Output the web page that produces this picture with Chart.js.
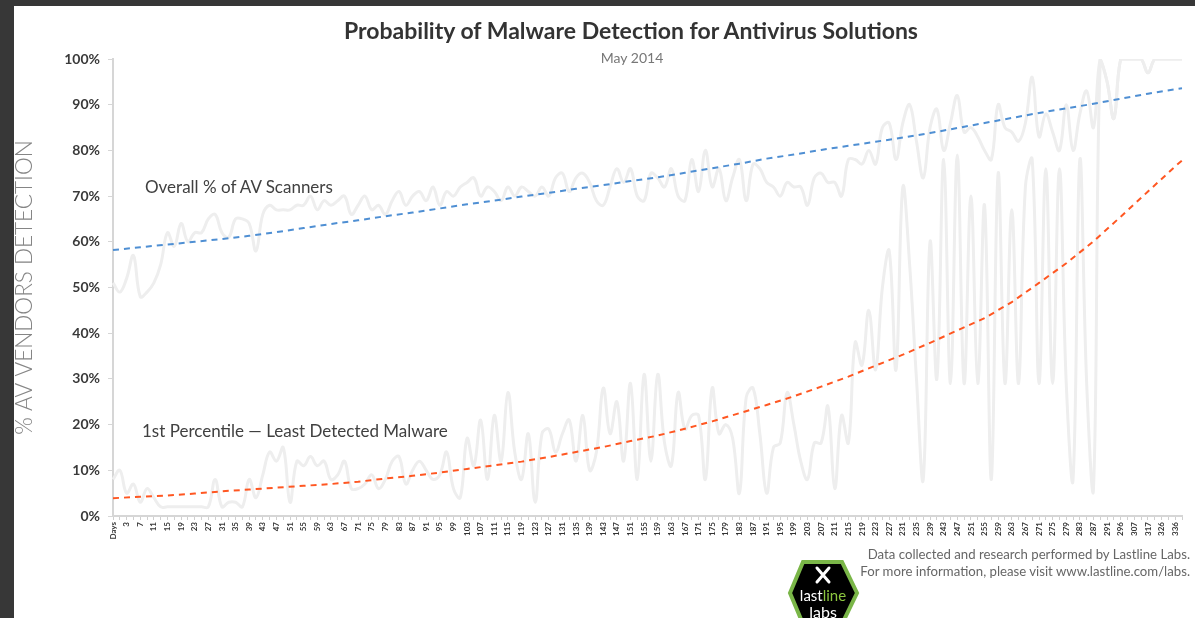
<!DOCTYPE html>
<html>
<head>
<meta charset="utf-8">
<script src="https://cdn.jsdelivr.net/npm/chart.js@4.4.1/dist/chart.umd.min.js"></script>
<style>
  body { margin: 0; background: #373737; width: 1195px; height: 618px; overflow: hidden; font-family: Lato, 'Open Sans', sans-serif; }
  #panel { position: absolute; left: 14px; top: 6px; width: 1181px; height: 612px; background: #fff; }
  #chart { position: absolute; left: 0; top: 0; }
  .txt { position: absolute; white-space: nowrap; }
  #title { left: 281px; width: 700px; top: 16px; line-height: 28px; text-align: center; font-size: 23px; font-weight: bold; color: #333; }
  #subtitle { left: 532px; width: 200px; top: 50px; line-height: 16px; text-align: center; font-size: 14px; color: #777; }
  .note { font-size: 17px; line-height: 20px; color: #404040; }
  #foot { right: 5px; top: 546px; font-size: 13.2px; line-height: 17px; color: #666; text-align: right; }
  #logo { position: absolute; left: 785px; top: 558px; }
</style>
</head>
<body>
<div id="panel"></div>
<canvas id="chart" width="1195" height="618"></canvas>
<div class="txt" id="title">Probability of Malware Detection for Antivirus Solutions</div>
<div class="txt" id="subtitle">May 2014</div>
<div class="txt note" style="left:145px;top:177px;">Overall % of AV Scanners</div>
<div class="txt note" style="left:142px;top:421px;">1st Percentile — Least Detected Malware</div>
<div class="txt" id="foot">Data collected and research performed by Lastline Labs.<br>For more information, please visit www.lastline.com/labs.</div>
<svg id="logo" width="76" height="60" viewBox="0 0 76 60">
  <polygon points="5,35 18,4 57,4 72,35 57,66 18,66" fill="#000" stroke="#7ab648" stroke-width="4"/>
  <path d="M32 10 L44 24 M44 10 L32 24" stroke="#fff" stroke-width="3" stroke-linecap="round"/>
  <text x="38" y="43" text-anchor="middle" font-family="Lato, sans-serif" font-size="15" fill="#fff">last<tspan fill="#8cc63f">line</tspan></text>
  <text x="38" y="60" text-anchor="middle" font-family="Lato, sans-serif" font-size="16" fill="#fff">labs</text>
</svg>
<script>
// day categories (odd days, then sparser days at the end)
const dayLabels = ['Days',
  1, 3, 5, 7, 9, 11, 13, 15, 17, 19, 21, 23, 25, 27, 29, 31, 33, 35, 37, 39,
  41, 43, 45, 47, 49, 51, 53, 55, 57, 59, 61, 63, 65, 67, 69, 71, 73, 75, 77, 79,
  81, 83, 85, 87, 89, 91, 93, 95, 97, 99, 101, 103, 105, 107, 109, 111, 113, 115, 117, 119,
  121, 123, 125, 127, 129, 131, 133, 135, 137, 139, 141, 143, 145, 147, 149, 151, 153, 155, 157, 159,
  161, 163, 165, 167, 169, 171, 173, 175, 177, 179, 181, 183, 185, 187, 189, 191, 193, 195, 197, 199,
  201, 203, 205, 207, 209, 211, 213, 215, 217, 219, 221, 223, 225, 227, 229, 231, 233, 235, 237, 239,
  241, 243, 245, 247, 249, 251, 253, 255, 257, 259, 261, 263, 265, 267, 269, 271, 273, 275, 277, 279,
  281, 283, 285, 287, 289, 291, 293, 296, 301, 307, 312, 317, 321, 326, 331, 336, 341];

// overall % of AV scanners detecting (raw daily)
const overallRaw = [
  51, 49, 52, 57, 48, 49, 51, 55, 62, 59,
  64, 60, 62, 62, 65, 66, 62, 61, 65, 65,
  64, 58, 66, 68, 67, 67, 67, 68, 68, 70,
  67, 69, 68, 69, 70, 66, 68, 70, 67, 68,
  66, 69, 71, 68, 70, 71, 69, 72, 68, 71,
  70, 72, 73, 74, 70, 72, 71, 69, 72, 70,
  72, 71, 70, 72, 70, 74, 75, 71, 74, 75,
  73, 69, 68, 72, 76, 73, 76, 70, 69, 75,
  74, 72, 76, 70, 69, 78, 71, 80, 72, 76,
  69, 74, 78, 69, 77, 76, 73, 72, 70, 73,
  72, 72, 68, 74, 75, 73, 73, 70, 78, 78,
  77, 80, 77, 85, 86, 78, 86, 90, 82, 74,
  85, 89, 80, 86, 92, 84, 85, 83, 80, 78,
  90, 85, 84, 82, 86, 96, 83, 88, 84, 80,
  90, 80, 88, 93, 85, 100, 95, 87, 100, 100,
  100, 100, 97, 100, 100, 100, 100, 100];

// 1st percentile, least detected malware (raw daily)
const percentileRaw = [
  8, 10, 5, 7, 3, 6, 4, 2, 2, 2,
  2, 2, 2, 2, 2, 8, 2, 3, 3, 2,
  8, 4, 9, 14, 12, 15, 3, 12, 11, 13,
  11, 12, 8, 9, 12, 6, 6, 7, 9, 6,
  8, 12, 13, 7, 10, 12, 10, 8, 9, 14,
  6, 4, 17, 11, 21, 8, 22, 12, 27, 14,
  8, 18, 3, 18, 19, 14, 18, 21, 12, 22,
  10, 14, 28, 18, 25, 12, 29, 8, 31, 12,
  31, 16, 11, 27, 19, 22, 22, 8, 28, 18,
  20, 17, 5, 26, 28, 18, 5, 15, 16, 27,
  20, 12, 8, 16, 16, 24, 6, 22, 16, 38,
  33, 45, 32, 50, 58, 32, 72, 55, 30, 8,
  60, 30, 78, 29, 79, 29, 70, 29, 68, 8,
  75, 29, 67, 29, 72, 78, 29, 76, 29, 76,
  29, 8, 78, 29, 6, 100, 95, 87, 100, 100,
  100, 100, 97, 100, 100, 100, 100, 100];

// trend lines, read at every 4th category
const trendDays = ['Days', '7', '15', '23', '31', '39', '47', '55', '63', '71',
  '79', '87', '95', '103', '111', '119', '127', '135', '143', '151',
  '159', '167', '175', '183', '191', '199', '207', '215', '223', '231',
  '239', '247', '255', '263', '271', '279', '287', '296', '317', '336', '341'];
const overallTrend = [58.2, 58.8, 59.4, 60.0, 60.6, 61.3, 62.1, 63.0, 63.9, 64.7,
  65.6, 66.4, 67.3, 68.2, 69.0, 69.9, 70.7, 71.6, 72.4, 73.3,
  74.1, 75.1, 76.1, 77.1, 78.2, 79.1, 80.1, 81.0, 81.9, 82.8,
  83.8, 84.9, 86.0, 87.1, 88.2, 89.2, 90.2, 91.3, 92.4, 93.4, 93.6];
const percentileTrend = [3.9, 4.2, 4.5, 4.9, 5.4, 5.8, 6.2, 6.6, 7.0, 7.5,
  8.2, 8.8, 9.5, 10.3, 11.1, 11.9, 12.9, 14.0, 15.1, 16.4,
  17.6, 19.1, 20.7, 22.5, 24.3, 26.2, 28.3, 30.5, 32.9, 35.3,
  37.9, 40.6, 43.3, 46.8, 51.0, 55.3, 60.1, 65.5, 71.0, 76.5, 77.8];

const labels = dayLabels.map(String);

function raw(data) {
  return { data, borderColor: '#eeeeee', borderWidth: 3, pointRadius: 0, tension: 0.4, fill: false };
}
function trend(vals, color) {
  return {
    data: trendDays.map((d, i) => ({ x: d, y: vals[i] })),
    borderColor: color, borderWidth: 2, borderDash: [6, 5], pointRadius: 0, tension: 0, fill: false,
  };
}

new Chart(document.getElementById('chart'), {
  type: 'line',
  data: {
    labels,
    datasets: [
      trend(overallTrend, '#4f8fd3'),
      trend(percentileTrend, '#ff5722'),
      raw(overallRaw),
      raw(percentileRaw),
    ],
  },
  options: {
    responsive: false,
    animation: false,
    layout: { padding: { top: 59, right: 13, left: 0, bottom: 0 } },
    plugins: { legend: { display: false }, tooltip: { enabled: false } },
    scales: {
      x: {
        offset: false,
        afterFit: s => { s.height = 102; },
        border: { color: '#d6d6d6', width: 2 },
        grid: { drawOnChartArea: false, tickLength: 4, color: '#cfcfcf' },
        ticks: {
          autoSkip: false, minRotation: 90, maxRotation: 90, padding: 2,
          color: '#333', font: { family: 'Lato', size: 8, weight: 'bold' },
          callback: function (v, i) { return i % 2 ? '' : this.getLabelForValue(v); },
        },
      },
      y: {
        min: 0, max: 100,
        afterFit: s => { s.width = 113; },
        border: { color: '#d6d6d6', width: 2 },
        grid: { drawOnChartArea: false, tickLength: 5, color: '#d6d6d6' },
        ticks: {
          stepSize: 10, padding: 8, color: '#3a3a3a',
          font: { family: 'Lato', size: 14, weight: 'bold' },
          callback: v => v + '%',
        },
        title: {
          display: true, text: '% AV VENDORS DETECTION', color: '#858585',
          font: { family: 'Lato', size: 22.5, weight: 300 }, padding: { top: 11, bottom: 0 },
        },
      },
    },
  },
});
</script>
</body>
</html>
